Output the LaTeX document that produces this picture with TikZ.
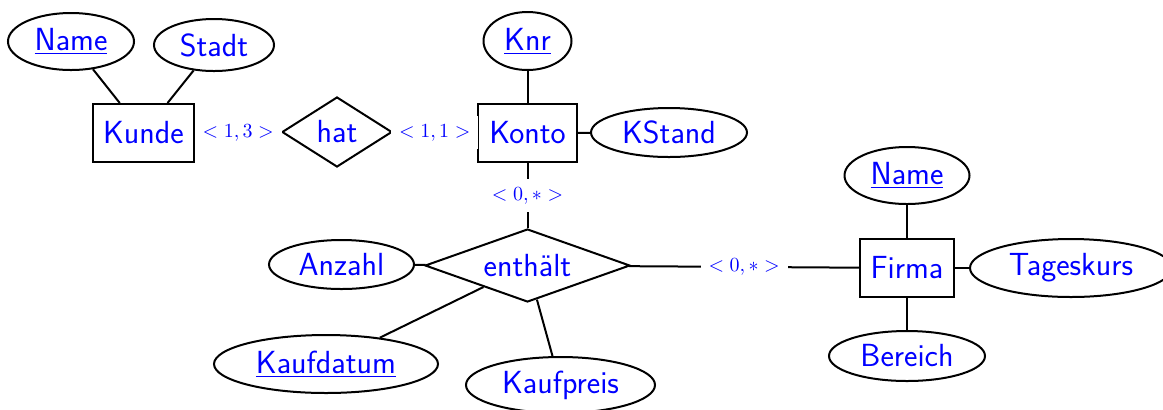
\documentclass[tikz,border=0pt]{standalone}
\usetikzlibrary{shapes.geometric}
\begin{document}
\begin{tikzpicture}[x=0.5pt,y=-0.5pt,
  every node/.style={font=\sffamily\fontsize{16}{19}\selectfont, text=blue, line width=1pt},
  attr/.style={ellipse, draw, inner sep=0pt},
  ent/.style={rectangle, draw, inner sep=0pt},
  rel/.style={diamond, draw, inner sep=0pt, aspect=1.5},
  card/.style={fill=white, inner sep=4pt, font=\fontsize{9.6}{11}\selectfont, text=blue},
  conn/.style={line width=1pt}]
\useasboundingbox (0,0) rectangle (1163,409);

\node[attr, minimum width=63pt, minimum height=28.5pt] (nameK) at (71,41.5) {\underline{Name}};
\node[attr, minimum width=60pt, minimum height=26pt] (stadt) at (214,45) {Stadt};
\node[ent, minimum width=50.5pt, minimum height=29pt] (kunde) at (143.5,133) {Kunde};
\node[rel, minimum width=55pt, minimum height=35pt] (hat) at (337,132) {hat};
\node[attr, minimum width=44pt, minimum height=29pt] (knr) at (527.5,41) {\underline{Knr}};
\node[ent, minimum width=49.5pt, minimum height=29pt] (konto) at (527.5,133) {Konto};
\node[attr, minimum width=78pt, minimum height=24.5pt] (kstand) at (669,132.5) {KStand};
\node[rel, aspect=2.8, minimum width=102.5pt, minimum height=36.5pt] (enth) at (527.5,265.5) {enthält};
\node[attr, minimum width=72.5pt, minimum height=24.5pt] (anzahl) at (341.5,264.5) {Anzahl};
\node[attr, minimum width=112pt, minimum height=29pt] (kaufdatum) at (326,364) {\underline{Kaufdatum}};
\node[attr, minimum width=94.5pt, minimum height=28pt] (kaufpreis) at (560.5,385) {Kaufpreis};
\node[ent, minimum width=47pt, minimum height=29pt] (firma) at (907,268) {Firma};
\node[attr, minimum width=62.5pt, minimum height=28.5pt] (nameF) at (907,175.5) {\underline{Name}};
\node[attr, minimum width=101pt, minimum height=29pt] (tageskurs) at (1071,268) {Tageskurs};
\node[attr, minimum width=78pt, minimum height=25pt] (bereich) at (907,356) {Bereich};

\draw[conn] (kunde) -- (nameK);
\draw[conn] (kunde) -- (stadt);
\draw[conn] (kunde) -- node[card] {$<1,3>$} (hat);
\draw[conn] (hat) -- node[card] {$<1,1>$} (konto);
\draw[conn] (konto) -- (knr);
\draw[conn] (konto) -- (kstand);
\draw[conn] (konto) -- node[card] {$<0,*>$} (enth);
\draw[conn] (enth) -- (anzahl);
\draw[conn] (enth) -- (kaufdatum);
\draw[conn] (enth) -- (kaufpreis);
\draw[conn] (enth) -- node[card] {$<0,*>$} (firma);
\draw[conn] (firma) -- (nameF);
\draw[conn] (firma) -- (tageskurs);
\draw[conn] (firma) -- (bereich);
\end{tikzpicture}
\end{document}
